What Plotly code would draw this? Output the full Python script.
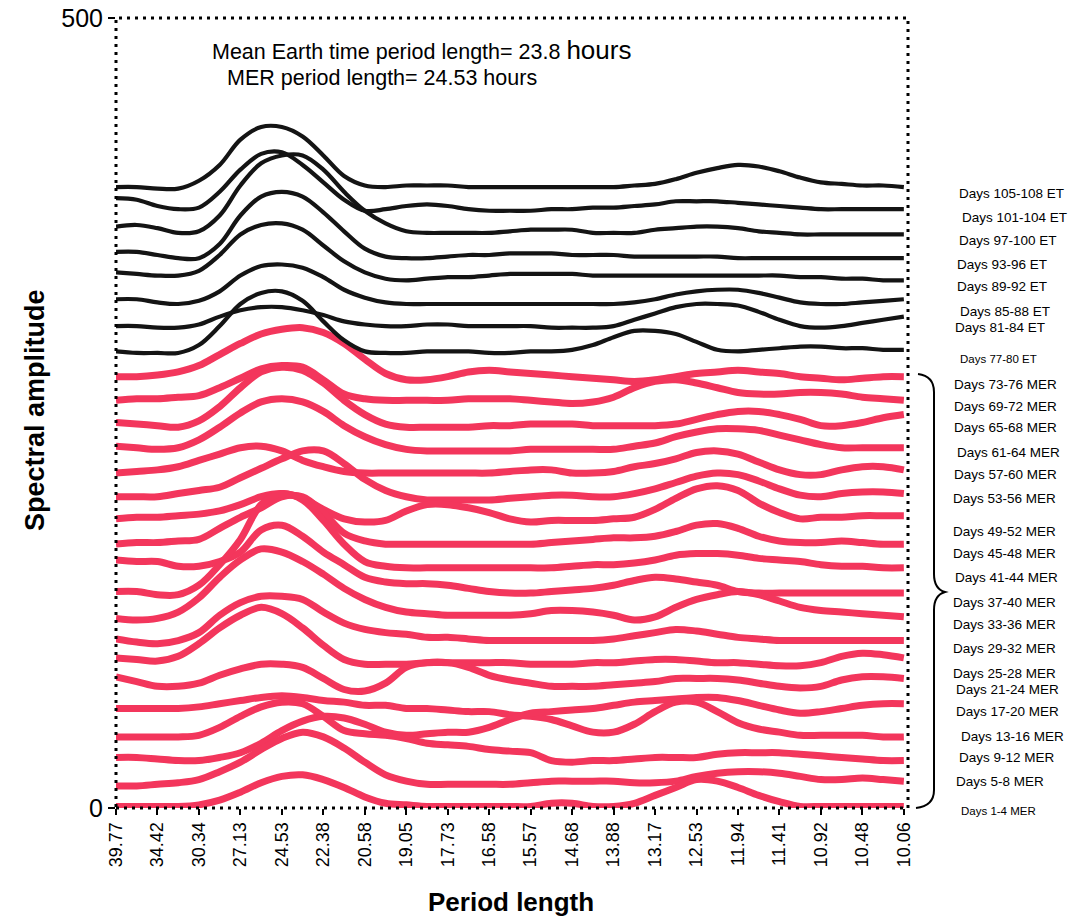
import numpy as np
import plotly.graph_objects as go

# ---------------- data ----------------
periods = ["39.77", "34.42", "30.34", "27.13", "24.53", "22.38", "20.58", "19.05",
           "17.73", "16.58", "15.57", "14.68", "13.88", "13.17", "12.53", "11.94",
           "11.41", "10.92", "10.48", "10.06"]

# samples every half category step (0, 0.5, ..., 19)
sample_pos = np.arange(39) * 0.5

# Earth-time (ET) spectra, top to bottom
et_105_108 = [393,393,392,392,397,407,423,431,431,425,413,400,394,393,394,394,394,393,393,393,393,393,393,393,393,394,395,398,402,405,407,406,403,399,396,395,394,394,393]
et_101_104 = [386,385,381,379,380,390,404,414,415,407,396,385,378,379,381,382,381,379,378,378,378,379,379,380,380,381,382,384,384,384,383,382,381,380,379,379,379,379,379]
et_97_100  = [368,369,367,364,365,375,394,408,413,413,404,390,378,370,365,364,364,364,364,365,366,366,366,364,364,364,366,367,368,368,367,365,364,363,363,363,363,363,363]
et_93_96   = [352,352,350,348,348,357,375,387,390,387,377,365,354,349,348,348,349,350,350,351,351,351,350,350,350,349,349,349,349,349,348,348,348,348,348,348,348,348,348]
et_89_92   = [339,338,337,337,340,350,363,369,370,366,356,346,339,335,334,335,336,336,337,338,338,338,338,337,337,337,337,337,337,337,337,337,337,336,336,335,335,334,334]
et_85_88   = [322,322,320,319,321,327,337,343,344,342,336,328,323,320,319,319,319,319,319,319,319,319,319,319,319,320,322,325,327,328,328,326,323,320,319,319,320,321,322]
et_81_84   = [305,305,304,304,306,311,315,317,317,315,312,308,306,305,305,306,306,305,305,305,305,304,304,304,305,309,313,317,319,319,318,314,309,305,304,305,307,309,311]
et_77_80   = [289,288,288,288,293,305,319,326,327,321,308,296,289,288,288,289,289,289,288,288,289,289,290,293,298,302,302,300,295,290,289,290,291,292,292,291,291,290,290]

# MER spectra, top to bottom
mer_73_76 = [273,273,274,276,280,287,294,300,303,304,301,294,284,275,271,271,273,276,277,276,275,274,273,272,271,270,271,273,275,276,277,276,275,273,272,271,272,273,273]
mer_69_72 = [258,259,259,260,261,266,272,278,280,279,271,262,259,258,258,258,258,259,259,259,258,257,256,257,260,266,270,271,269,266,263,262,262,263,263,262,260,259,258]
mer_65_68 = [244,243,242,241,245,254,266,276,279,277,269,258,249,243,241,241,241,241,242,242,243,243,243,242,242,242,242,243,246,249,251,251,249,246,242,242,244,247,249]
mer_61_64 = [229,228,227,228,233,241,250,257,259,257,251,242,235,230,227,226,226,226,226,226,227,227,227,227,227,229,231,235,238,240,240,239,236,233,230,228,228,228,228]
mer_57_60 = [212,213,214,216,220,224,228,229,226,220,216,213,212,212,212,212,212,212,212,213,214,214,212,212,213,216,218,221,225,226,224,219,214,211,211,214,216,216,214]
mer_53_56 = [197,197,197,199,201,203,209,215,221,226,226,218,208,201,197,195,195,195,195,196,197,198,198,197,197,199,202,206,210,212,211,207,202,198,197,199,200,200,199]
mer_49_52 = [183,184,184,185,186,188,192,197,199,196,189,183,181,182,188,192,192,190,187,183,181,182,182,182,183,184,189,196,202,204,201,193,187,183,184,184,185,185,185]
mer_45_48 = [167,168,168,169,170,177,184,190,197,197,187,174,169,167,167,167,167,167,167,167,167,168,169,170,171,171,172,175,179,180,177,172,169,168,168,169,168,167,167]
mer_41_44 = [157,156,156,153,153,156,162,176,179,172,162,154,146,143,142,142,141,139,137,136,136,137,138,139,141,144,146,145,143,141,137,136,136,136,136,136,136,136,136]
mer_37_40 = [137,137,135,135,141,154,170,192,199,195,182,167,156,153,152,152,152,152,152,152,152,152,153,154,154,155,157,160,161,161,160,158,157,156,154,153,153,152,152]
mer_33_36 = [120,119,120,124,133,146,157,164,162,156,148,139,132,127,124,123,122,122,122,122,123,125,125,124,122,119,121,127,132,135,137,135,131,127,125,124,123,122,121]
mer_29_32 = [107,105,104,106,111,122,130,134,134,132,124,117,113,111,110,108,108,107,106,106,106,106,106,106,107,109,111,113,112,110,108,107,106,106,106,106,106,106,106]
mer_25_28 = [95,94,93,96,104,114,122,127,123,114,103,94,91,91,91,92,92,92,92,92,91,91,91,92,92,93,94,94,93,92,92,91,90,90,92,96,98,97,95]
mer_21_24 = [83,80,77,77,79,84,88,91,91,89,82,75,74,79,89,92,92,89,84,81,79,77,77,77,78,79,80,82,82,82,81,79,77,76,77,81,83,83,82]
mer_17_20 = [63,63,63,63,64,66,68,70,71,70,68,67,65,65,63,63,62,61,61,59,58,56,52,48,48,53,61,67,67,61,54,50,48,46,46,46,46,45,45]
mer_13_16 = [32,32,31,30,30,32,35,41,49,55,58,57,53,48,46,47,48,48,51,56,60,61,62,63,65,67,68,69,70,70,68,65,62,60,61,63,65,66,66]
mer_9_12  = [45,45,45,45,46,51,58,64,67,66,58,49,47,46,44,41,40,39,37,36,35,30,29,30,30,31,32,32,32,34,35,35,35,34,33,32,31,30,30]
mer_5_8   = [14,14,15,16,18,23,29,37,44,48,45,38,29,21,17,15,15,15,15,15,16,17,17,17,17,16,16,17,20,22,23,23,22,20,18,18,19,18,17]
mer_1_4   = [1,1,1,1,2,5,10,16,20,21,18,13,7,3,2,1,1,1,1,1,1,3,3,1,1,3,8,13,18,17,13,8,4,1,1,1,1,1,1]

et_series = [et_105_108, et_101_104, et_97_100, et_93_96, et_89_92, et_85_88, et_81_84, et_77_80]
mer_series = [mer_73_76, mer_69_72, mer_65_68, mer_61_64, mer_57_60, mer_53_56, mer_49_52,
              mer_45_48, mer_41_44, mer_37_40, mer_33_36, mer_29_32, mer_25_28, mer_21_24,
              mer_17_20, mer_13_16, mer_9_12, mer_5_8, mer_1_4]

series_labels = ["Days 105-108 ET", "Days 101-104 ET", "Days 97-100 ET", "Days 93-96 ET",
                 "Days 89-92 ET", "Days 85-88 ET", "Days 81-84 ET", "Days 77-80 ET",
                 "Days 73-76 MER", "Days 69-72 MER", "Days 65-68 MER", "Days 61-64 MER",
                 "Days 57-60 MER", "Days 53-56 MER", "Days 49-52 MER", "Days 45-48 MER",
                 "Days 41-44 MER", "Days 37-40 MER", "Days 33-36 MER", "Days 29-32 MER",
                 "Days 25-28 MER", "Days 21-24 MER", "Days 17-20 MER", "Days 13-16 MER",
                 "Days 9-12 MER", "Days 5-8 MER", "Days 1-4 MER"]
# vertical placement of the right-hand labels (amplitude units)
label_levels = [389, 374, 359, 344, 330, 314, 304, 284, 268, 254, 241, 225, 211, 196,
                175, 161, 146, 130, 116, 101, 85, 75, 61, 45, 32, 17, -2]
label_left_px = [957, 960, 957, 955, 955, 958, 953, 958, 952, 952, 952, 955, 952, 951,
                 951, 951, 953, 951, 951, 951, 951, 954, 954, 959, 957, 954, 959]
label_sizes = [13.5]*7 + [11.5] + [13.5]*18 + [11.5]

# ---------------- figure ----------------
W, H = 1068, 921
ML, MR, MT, MB = 116, 160, 18, 113
PW, PH = W - ML - MR, H - MT - MB
Y_MAX = 500
FONT = "Liberation Sans, Arial, Helvetica, sans-serif"
RED = "#f3365c"
BLACK = "#141414"


def px2paper(px, py):
    return (px - ML) / PW, (H - MB - py) / PH


fig = go.Figure()
for name, ys in zip(series_labels[8:], mer_series):
    fig.add_trace(go.Scatter(x=sample_pos, y=ys, mode="lines", name=name,
                             line=dict(color=RED, width=7, shape="spline", smoothing=1.0),
                             hoverinfo="skip"))
for name, ys in zip(series_labels[:8], et_series):
    fig.add_trace(go.Scatter(x=sample_pos, y=ys, mode="lines", name=name,
                             line=dict(color=BLACK, width=4.2, shape="spline", smoothing=1.0),
                             hoverinfo="skip"))

annotations = []
for text, lvl, lpx, fs in zip(series_labels, label_levels, label_left_px, label_sizes):
    xp, _ = px2paper(lpx, 0)
    annotations.append(dict(text=text, x=xp, xref="paper", y=lvl / Y_MAX, yref="paper",
                            xanchor="left", yanchor="middle", showarrow=False,
                            font=dict(family=FONT, size=fs, color="black")))

x1, y1 = px2paper(210, 50)
annotations.append(dict(text='Mean Earth time period length= 23.8 <span style="font-size:26px">hours</span>',
                        x=x1, y=y1, xref="paper", yref="paper", xanchor="left", yanchor="middle",
                        showarrow=False, font=dict(family=FONT, size=21.5, color="black")))
x2, y2 = px2paper(225, 78)
annotations.append(dict(text="MER period length= 24.53 hours",
                        x=x2, y=y2, xref="paper", yref="paper", xanchor="left", yanchor="middle",
                        showarrow=False, font=dict(family=FONT, size=21.5, color="black")))
xa, ya = px2paper(35, 410)
annotations.append(dict(text="<b>Spectral amplitude</b>", x=xa, y=ya, xref="paper", yref="paper",
                        textangle=-90, showarrow=False, xanchor="center", yanchor="middle",
                        font=dict(family=FONT, size=27, color="black")))
xb, yb = px2paper(511, 902)
annotations.append(dict(text="<b>Period length</b>", x=xb, y=yb, xref="paper", yref="paper",
                        showarrow=False, xanchor="center", yanchor="middle",
                        font=dict(family=FONT, size=26, color="black")))


def pp(px, py):
    a, b = px2paper(px, py)
    return f"{a:.5f},{b:.5f}"


brace = ("M " + pp(918, 374) + " Q " + pp(934, 376) + " " + pp(934, 392) +
         " L " + pp(934, 574) + " Q " + pp(934, 589) + " " + pp(945, 592) +
         " Q " + pp(934, 595) + " " + pp(934, 610) +
         " L " + pp(934, 790) + " Q " + pp(934, 806) + " " + pp(916, 808))

shapes = [
    dict(type="rect", xref="paper", yref="paper", x0=0, x1=1, y0=0, y1=1,
         line=dict(color="black", width=3, dash="3px,5px"), layer="above"),
    dict(type="path", xref="paper", yref="paper", path=brace,
         line=dict(color="black", width=2)),
]

fig.update_layout(
    width=W, height=H,
    margin=dict(l=ML, r=MR, t=MT, b=MB, pad=0, autoexpand=False),
    paper_bgcolor="white", plot_bgcolor="white",
    showlegend=False,
    font=dict(family=FONT, color="black"),
    xaxis=dict(range=[0, 19.1], tickvals=list(range(len(periods))), ticktext=periods,
               tickangle=-90, ticks="outside", ticklen=6, tickwidth=1.5, tickcolor="black",
               tickfont=dict(family=FONT, size=18, color="black"), automargin=False,
               showgrid=False, zeroline=False, showline=False, fixedrange=True),
    yaxis=dict(range=[0, Y_MAX], tickvals=[0, Y_MAX], ticktext=["0", "500"],
               ticks="outside", ticklen=7, tickwidth=1.5, tickcolor="black",
               tickfont=dict(family=FONT, size=25, color="black"), automargin=False,
               showgrid=False, zeroline=False, showline=False, fixedrange=True),
    annotations=annotations,
    shapes=shapes,
)

fig.write_html("out.html", config={"displayModeBar": False},
               post_script="document.body.style.margin='0';document.body.style.overflow='hidden';")
